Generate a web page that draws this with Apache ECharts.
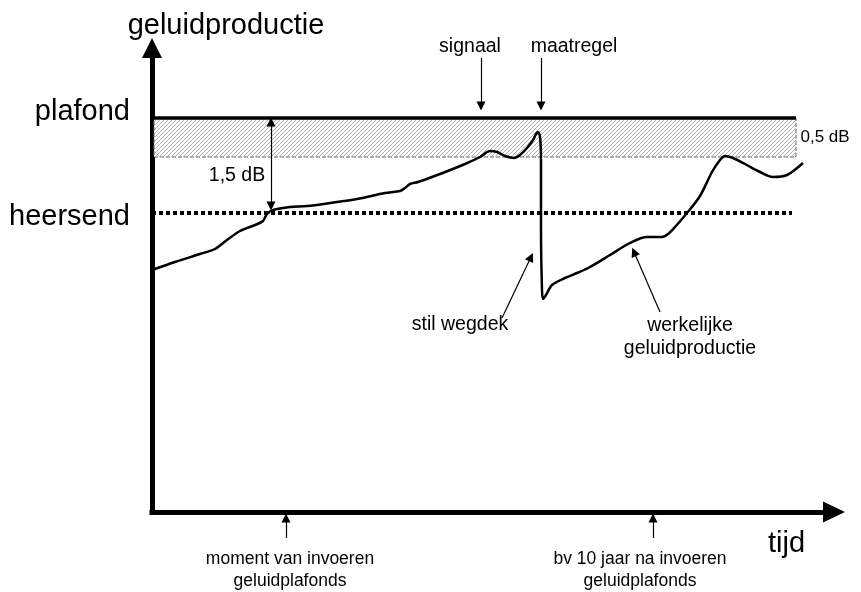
<!DOCTYPE html>
<html>
<head>
<meta charset="utf-8">
<title>geluidplafond</title>
<script src="https://cdn.jsdelivr.net/npm/echarts@6/dist/echarts.min.js"></script>
<style>
  html, body { margin: 0; padding: 0; background: #fff; }
  #chart { width: 861px; height: 592px; }
</style>
</head>
<body>
<div id="chart"></div>
<script>
// tijd (x) en geluidproductie (y), in schets-eenheden
var curveX = [0, 23, 48, 63, 75, 88, 103, 111, 115, 121, 138, 155, 178, 205, 233, 248, 253, 258, 266, 288,
  313, 328, 338, 345, 353, 362, 368, 375, 381, 384, 386, 388, 389, 389, 390, 391, 394, 400, 413, 425,
  438, 458, 478, 495, 510, 516, 523, 535, 548, 560, 568, 573, 581, 593, 608, 621, 635, 651];
var curveY = [242, 250, 258, 263, 272, 281, 287, 291, 298, 302, 305, 306, 309, 313, 319, 321, 324, 328, 330, 338,
  348, 355, 361, 360, 356, 354, 357, 364, 372, 378, 380, 375, 352, 282, 222, 213, 217, 227, 234, 239,
  245, 257, 269, 275, 275, 278, 285, 299, 316, 340, 352, 356, 354, 348, 340, 335, 337, 349];

var plafondLevel = 394;
var bandBottom = 355;
var heersendLevel = 299;
var lineEnd = 644;

// labels links van de y-as
var yLabelValues = [295, 400];
var yLabelTexts = ['heersend', 'plafond'];

// labels onder de x-as
var xLabelValues = [138, 488];
var xLabelTexts = ['moment van invoeren\ngeluidplafonds', 'bv 10 jaar na invoeren\ngeluidplafonds'];

// losse teksten in de figuur
var noteTexts = ['signaal', 'maatregel', '1,5 dB', 'stil wegdek', 'werkelijke\ngeluidproductie'];
var noteX = [318, 422, 85, 308, 538];
var noteY = [465, 465, 336, 187, 175];

// pijltjes: van -> naar (eindpunt = midden van de pijlpunt)
var arrowFrom = [[329, 454], [389, 454], [350, 194], [508, 200], [134, -26], [501, -26]];
var arrowTo = [[329, 406], [389, 406], [379, 255], [482, 260], [134, -6], [501, -6]];
var dbArrow = [[119, 306], [119, 390]];

var FONT = 'Liberation Sans';

// arcering voor de band van 0,5 dB
function hatch() {
  var c = document.createElement('canvas');
  c.width = 4; c.height = 4;
  var ctx = c.getContext('2d');
  ctx.fillStyle = '#fff';
  ctx.fillRect(0, 0, 4, 4);
  ctx.strokeStyle = '#9a9a9a';
  ctx.lineWidth = 0.8;
  ctx.beginPath();
  ctx.moveTo(0, 4); ctx.lineTo(4, 0);
  ctx.moveTo(-1, 1); ctx.lineTo(1, -1);
  ctx.moveTo(3, 5); ctx.lineTo(5, 3);
  ctx.stroke();
  return c;
}

var curve = [];
for (var i = 0; i < curveX.length; i++) curve.push([curveX[i], curveY[i]]);

var notes = [];
for (var j = 0; j < noteTexts.length; j++) notes.push({ name: noteTexts[j], value: [noteX[j], noteY[j]] });

var arrows = [];
for (var k = 0; k < arrowFrom.length; k++) arrows.push({ coords: [arrowFrom[k], arrowTo[k]] });

var myChart = echarts.init(document.getElementById('chart'), null, { renderer: 'canvas' });

var option = {
  animation: false,
  backgroundColor: '#fff',
  textStyle: { fontFamily: FONT },
  grid: { left: 152, top: 48, right: 27, bottom: 80, outerBoundsMode: 'none' },
  xAxis: {
    type: 'value', min: 0, max: 682,
    name: 'tijd',
    nameLocation: 'end',
    nameGap: -66,
    nameMoveOverlap: false,
    nameTextStyle: { fontFamily: FONT, fontSize: 29, color: '#000', verticalAlign: 'top', padding: [17, 0, 0, 0] },
    axisLine: { show: true, onZero: false, symbol: ['none', 'triangle'], symbolSize: [21, 22],
      lineStyle: { color: '#000', width: 5, cap: 'square' } },
    axisTick: { show: false },
    splitLine: { show: false },
    axisLabel: {
      show: true, customValues: xLabelValues, margin: 36,
      fontFamily: FONT, fontSize: 17.5, lineHeight: 22, color: '#000', align: 'center',
      formatter: function (v) { return xLabelTexts[xLabelValues.indexOf(v)] || ''; }
    }
  },
  yAxis: {
    type: 'value', min: 0, max: 464,
    name: 'geluidproductie',
    nameLocation: 'end',
    nameGap: 8,
    nameTextStyle: { fontFamily: FONT, fontSize: 29, color: '#000', padding: [0, 0, 0, 148] },
    axisLine: { show: true, onZero: false, symbol: ['none', 'triangle'], symbolSize: [20, 20],
      lineStyle: { color: '#000', width: 5, cap: 'square' } },
    axisTick: { show: false },
    splitLine: { show: false },
    axisLabel: {
      show: true, customValues: yLabelValues, margin: 22,
      fontFamily: FONT, fontSize: 29, color: '#000',
      formatter: function (v) { return yLabelTexts[yLabelValues.indexOf(v)] || ''; }
    }
  },
  series: [
    { // band + plafond
      name: 'plafond',
      type: 'line',
      z: 3,
      data: [[0, plafondLevel], [lineEnd, plafondLevel]],
      showSymbol: false,
      lineStyle: { color: '#000', width: 3.5 },
      markArea: {
        silent: true,
        itemStyle: {
          color: { image: hatch(), repeat: 'repeat' },
          borderColor: '#666', borderWidth: 1, borderType: 'dashed'
        },
        label: { show: true, position: 'right', distance: 4, formatter: '0,5 dB',
          fontFamily: FONT, fontSize: 17, color: '#000' },
        data: [[{ coord: [2, bandBottom] }, { coord: [lineEnd, plafondLevel] }]]
      }
    },
    {
      name: 'heersend',
      type: 'line',
      z: 3,
      data: [[0, heersendLevel], [lineEnd - 4, heersendLevel]],
      showSymbol: false,
      lineStyle: { color: '#000', width: 4, type: [4, 3], cap: 'butt' }
    },
    {
      name: 'werkelijke geluidproductie',
      type: 'line',
      z: 4,
      data: curve,
      smooth: 0.3,
      showSymbol: false,
      lineStyle: { color: '#000', width: 2.5 }
    },
    {
      name: 'pijlen',
      type: 'lines',
      coordinateSystem: 'cartesian2d',
      clip: false,
      z: 5,
      symbol: ['none', 'triangle'],
      symbolSize: 9,
      lineStyle: { color: '#000', width: 1.2, opacity: 1 },
      data: arrows
    },
    {
      name: 'dB',
      type: 'lines',
      coordinateSystem: 'cartesian2d',
      clip: false,
      z: 5,
      symbol: ['triangle', 'triangle'],
      symbolSize: 9,
      lineStyle: { color: '#000', width: 1.2, opacity: 1 },
      data: [{ coords: dbArrow }]
    },
    {
      name: 'teksten',
      type: 'scatter',
      clip: false,
      z: 6,
      symbolSize: 0,
      silent: true,
      itemStyle: { opacity: 1 },
      label: { show: true, position: 'inside', formatter: '{b}', fontFamily: FONT,
        fontSize: 19.5, lineHeight: 23, color: '#000', textBorderWidth: 0, opacity: 1 },
      data: notes
    }
  ]
};

myChart.setOption(option);
</script>
</body>
</html>
